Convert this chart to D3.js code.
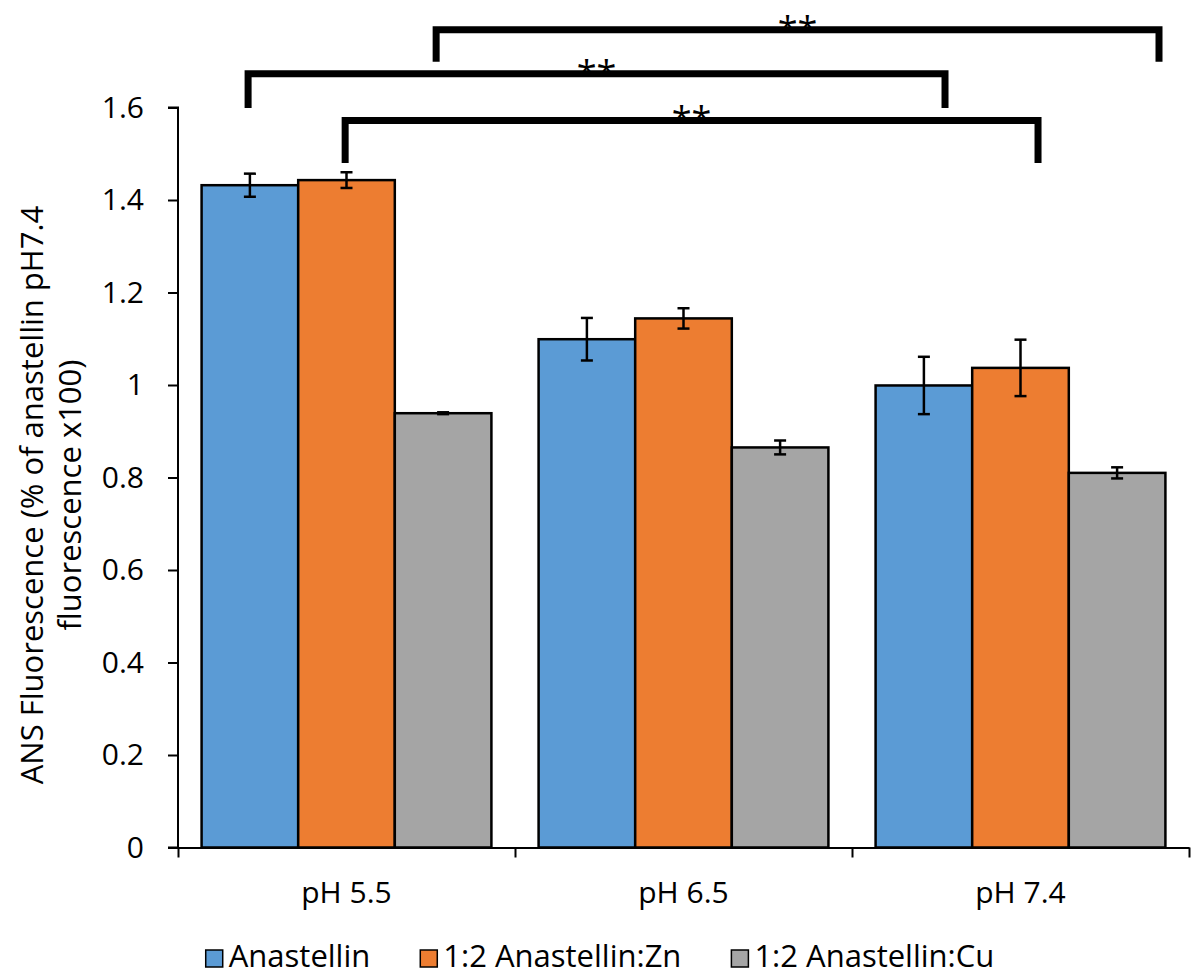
<!DOCTYPE html>
<html>
<head>
<meta charset="utf-8">
<script src="https://cdn.jsdelivr.net/npm/d3@7"></script>
<style>
  html, body { margin: 0; padding: 0; background: #fff; }
  svg { display: block; }
</style>
</head>
<body>
<svg id="chart" width="1193" height="976"></svg>
<script>
// ---------- data ----------
const categories = ["pH 5.5", "pH 6.5", "pH 7.4"];
const seriesNames = ["Anastellin", "1:2 Anastellin:Zn", "1:2 Anastellin:Cu"];
const anastellin   = [1.432, 1.099, 0.999];
const anastellinZn = [1.443, 1.144, 1.037];
const anastellinCu = [0.939, 0.865, 0.810];
const errAnastellin   = [0.025, 0.046, 0.062];
const errAnastellinZn = [0.017, 0.022, 0.061];
const errAnastellinCu = [0.002, 0.015, 0.012];
const yTickValues = [0, 0.2, 0.4, 0.6, 0.8, 1, 1.2, 1.4, 1.6];
const yTickLabels = ["0", "0.2", "0.4", "0.6", "0.8", "1", "1.2", "1.4", "1.6"];
const seriesColors = ["#5B9BD5", "#ED7D31", "#A5A5A5"];
const yTitleLines = ["ANS Fluorescence (% of anastellin pH7.4", "fluorescence x100)"];
// significance brackets: x in category units (0..3), y in data units
const bracketFrom = [0.766, 0.208, 0.496];
const bracketTo   = [2.911, 2.276, 2.552];
const bracketTop  = [1.768, 1.673, 1.572];
const bracketLeg  = [1.699, 1.599, 1.480];
const bracketLabel = ["**", "**", "**"];

// ---------- layout ----------
const svg = d3.select("#chart");
const plotLeft = 178, plotRight = 1189, plotTop = 107.5, plotBottom = 847.5;

const y = d3.scaleLinear().domain([0, 1.6]).range([plotBottom, plotTop]);
const x = d3.scaleBand().domain(categories).range([plotLeft, plotRight]).padding(0);
const xi = d3.scaleLinear().domain([0, 3]).range([plotLeft, plotRight]);
const xs = d3.scaleBand().domain(d3.range(3))
  .range([x.bandwidth() * 0.07, x.bandwidth() * 0.93]).padding(0);

const values = [anastellin, anastellinZn, anastellinCu];
const errors = [errAnastellin, errAnastellinZn, errAnastellinCu];
const rows = [];
categories.forEach((c, ci) => {
  seriesNames.forEach((s, si) => {
    rows.push({ c, ci, si, v: values[si][ci], e: errors[si][ci] });
  });
});

const fontMain = "'Open Sans', 'Noto Sans', sans-serif";

// bars
svg.append("g").selectAll("rect").data(rows).join("rect")
  .attr("x", d => x(d.c) + xs(d.si))
  .attr("y", d => y(d.v))
  .attr("width", xs.bandwidth())
  .attr("height", d => y(0) - y(d.v))
  .attr("fill", d => seriesColors[d.si])
  .attr("stroke", "#000")
  .attr("stroke-width", 2.5);

// error bars
const eg = svg.append("g").attr("stroke", "#000").attr("stroke-width", 2.5).attr("fill", "none");
rows.forEach(d => {
  const cx = x(d.c) + xs(d.si) + xs.bandwidth() / 2;
  const y1 = y(d.v + d.e), y2 = y(d.v - d.e);
  eg.append("line").attr("x1", cx).attr("x2", cx).attr("y1", y1).attr("y2", y2);
  eg.append("line").attr("x1", cx - 6).attr("x2", cx + 6).attr("y1", y1).attr("y2", y1);
  eg.append("line").attr("x1", cx - 6).attr("x2", cx + 6).attr("y1", y2).attr("y2", y2);
});

// y axis
const yAxis = svg.append("g").attr("transform", `translate(${plotLeft},0)`)
  .call(d3.axisLeft(y).tickValues(yTickValues)
    .tickFormat((d, i) => yTickLabels[i]).tickSize(10).tickPadding(24));
yAxis.select(".domain").attr("stroke", "#000").attr("stroke-width", 2)
  .attr("d", `M-10,${plotTop}H0V${plotBottom}H-10`);
yAxis.selectAll(".tick line").attr("stroke", "#000").attr("stroke-width", 2);
yAxis.selectAll(".tick text").attr("font-family", fontMain).attr("font-size", 30).attr("fill", "#000");

// x axis (ticks at category boundaries)
const xAxis = svg.append("g").attr("transform", `translate(0,${plotBottom})`)
  .call(d3.axisBottom(xi).tickValues([0, 1, 2, 3]).tickFormat("").tickSize(10).tickSizeOuter(0));
xAxis.select(".domain").attr("stroke", "#000").attr("stroke-width", 2);
xAxis.selectAll(".tick line").attr("stroke", "#000").attr("stroke-width", 2);

svg.append("g").selectAll("text").data(categories).join("text")
  .attr("x", d => x(d) + x.bandwidth() / 2)
  .attr("y", 903)
  .attr("text-anchor", "middle")
  .attr("font-family", fontMain).attr("font-size", 30).attr("fill", "#000")
  .text(d => d);

// y title
yTitleLines.forEach((t, i) => {
  svg.append("text")
    .attr("transform", `translate(${43 + i * 38},495) rotate(-90)`)
    .attr("text-anchor", "middle")
    .attr("font-family", fontMain).attr("font-size", 31).attr("fill", "#000")
    .text(t);
});

// significance brackets
const bg = svg.append("g");
bracketFrom.forEach((f, i) => {
  const x1 = xi(f), x2 = xi(bracketTo[i]);
  const yb = y(bracketTop[i]), yl = y(bracketLeg[i]);
  bg.append("path")
    .attr("d", `M${x1},${yl}V${yb}H${x2}V${yl}`)
    .attr("fill", "none").attr("stroke", "#000").attr("stroke-width", 7)
    .attr("stroke-linejoin", "miter");
  bg.append("text")
    .attr("x", (x1 + x2) / 2).attr("y", yb + 12)
    .attr("text-anchor", "middle")
    .attr("font-family", fontMain).attr("font-size", 36).attr("fill", "#000")
    .text(bracketLabel[i]);
});

// legend
const lg = svg.append("g");
const items = seriesNames.map((name, i) => {
  const g = lg.append("g");
  g.append("rect").attr("x", 0).attr("y", 950).attr("width", 17).attr("height", 17)
    .attr("fill", seriesColors[i]).attr("stroke", "#000").attr("stroke-width", 1.5);
  const t = g.append("text").attr("x", 23).attr("y", 967)
    .attr("font-family", fontMain).attr("font-size", 31).attr("fill", "#000").text(name);
  return { g, w: 23 + t.node().getComputedTextLength() };
});
const gap = 50;
const total = d3.sum(items, d => d.w) + gap * (items.length - 1);
let lx = 600 - total / 2;
items.forEach(it => { it.g.attr("transform", `translate(${lx},0)`); lx += it.w + gap; });
</script>
</body>
</html>
